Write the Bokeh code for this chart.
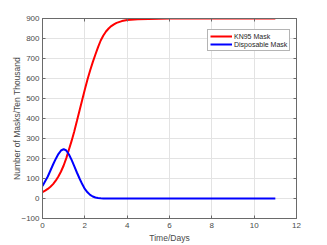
from bokeh.plotting import figure
from bokeh.models import Range1d, FixedTicker, Legend, LegendItem, LinearAxis
from bokeh.embed import file_html
from bokeh.resources import INLINE

t = [0, 0.125, 0.25, 0.375, 0.5, 0.625, 0.75, 0.875, 1.0, 1.125, 1.25, 1.375,
     1.5, 1.625, 1.75, 1.875, 2.0, 2.125, 2.25, 2.375, 2.5, 2.625, 2.75, 2.875,
     3.0, 3.125, 3.25, 3.375, 3.5, 3.75, 4.0, 4.5, 5, 5.5, 6, 7, 8, 9, 10, 11]
kn95 = [32, 39, 48, 59, 72, 89, 110, 135, 165, 202, 245, 288,
        335, 387, 440, 493, 545, 595, 640, 682, 720, 757, 790, 815,
        835, 850, 862, 871, 878, 887, 892, 896, 898, 899, 900, 900, 900, 900, 900, 900]
disposable = [62, 86, 110, 140, 170, 198, 222, 240, 247, 240, 220, 193,
              162, 130, 100, 72, 48, 31, 18, 10, 5, 2.5, 1.2, 0.6,
              0.3, 0.15, 0.1, 0.05, 0, 0, 0, 0, 0, 0, 0, 0, 0, 0, 0, 0]

x_ticks = [0, 2, 4, 6, 8, 10, 12]
y_ticks = [-100, 0, 100, 200, 300, 400, 500, 600, 700, 800, 900]

FONT = "Liberation Sans"
AX = "#6a6a6a"
TXT = "#4a4a4a"

p = figure(width=327, height=245, output_backend="svg", toolbar_location=None,
           x_range=Range1d(0, 12), y_range=Range1d(-100, 900),
           min_border_left=42, min_border_right=31, min_border_top=18, min_border_bottom=27)
p.outline_line_color = AX
p.outline_line_width = 1
p.background_fill_color = "white"
p.border_fill_color = "white"

top_ax = LinearAxis(ticker=FixedTicker(ticks=x_ticks))
right_ax = LinearAxis(ticker=FixedTicker(ticks=y_ticks))
for ax in (top_ax, right_ax):
    ax.major_label_text_alpha = 0
    ax.major_label_text_font_size = "1px"
    ax.major_label_standoff = 0
p.add_layout(top_ax, "above")
p.add_layout(right_ax, "right")

for ax in (p.xaxis, p.yaxis):
    ax.major_tick_in = 3
    ax.major_tick_out = 0
    ax.minor_tick_line_color = None
    ax.axis_line_color = AX
    ax.major_tick_line_color = AX

for ax in (p.below[0], p.left[0]):
    ax.major_label_text_font = FONT
    ax.major_label_text_font_size = "8px"
    ax.major_label_text_color = TXT
    ax.axis_label_text_font = FONT
    ax.axis_label_text_font_size = "8.5px"
    ax.axis_label_text_font_style = "normal"
    ax.axis_label_text_color = TXT

p.below[0].ticker = FixedTicker(ticks=x_ticks)
p.left[0].ticker = FixedTicker(ticks=y_ticks)
p.below[0].axis_label = "Time/Days"
p.left[0].axis_label = "Number of Masks/Ten Thousand"
p.below[0].major_label_standoff = 4
p.left[0].major_label_standoff = 3
p.below[0].axis_label_standoff = 2
p.left[0].axis_label_standoff = -4

p.xgrid.ticker = FixedTicker(ticks=x_ticks)
p.ygrid.ticker = FixedTicker(ticks=y_ticks)
p.xgrid.grid_line_color = "#e3e3e3"
p.ygrid.grid_line_color = "#e3e3e3"

r1 = p.line(t, kn95, line_color="#ff0000", line_width=2)
r2 = p.line(t, disposable, line_color="#0000ff", line_width=2)

legend = Legend(items=[LegendItem(label="KN95 Mask", renderers=[r1]),
                       LegendItem(label="Disposable Mask", renderers=[r2])],
                location=(165, 167))
legend.label_text_font = FONT
legend.label_text_font_size = "7px"
legend.label_text_color = "#262626"
legend.glyph_width = 22
legend.glyph_height = 8
legend.label_height = 8
legend.label_standoff = 2
legend.spacing = 0
legend.padding = 2
legend.margin = 0
legend.border_line_color = AX
legend.border_line_width = 1
legend.background_fill_alpha = 1
p.add_layout(legend)

open("out.html", "w").write(file_html(p, INLINE))
